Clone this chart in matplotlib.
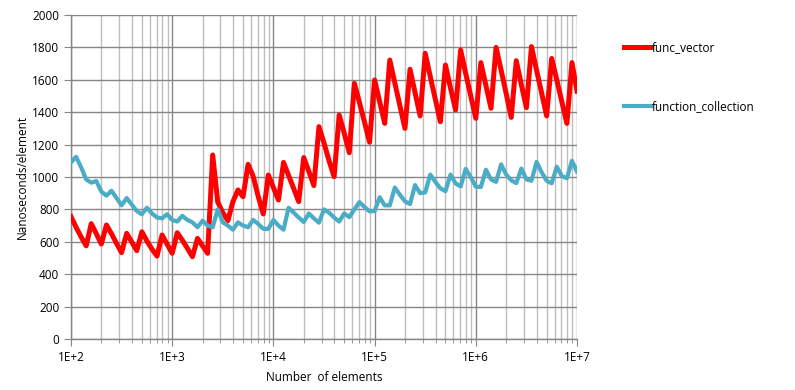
#!/usr/bin/env python3
# -*- coding: utf-8 -*-
import matplotlib
matplotlib.use("Agg")
import matplotlib.pyplot as plt
import matplotlib.ticker as ticker
import numpy as np

# sample sizes: 20 samples per decade from 1E+2 to 1E+7
steps = list(range(101))

# nanoseconds per element
func_vector = [
    755, 690, 630, 575, 712, 650, 586, 704, 650, 590,
    533, 652, 600, 545, 662, 605, 555, 512, 642, 585,
    529, 656, 610, 560, 508, 621, 575, 529, 1136, 845,
    780, 730, 848, 920, 878, 1078, 1005, 880, 772, 1012,
    935, 858, 1090, 1010, 930, 848, 1120, 1035, 947, 1311,
    1210, 1100, 1002, 1383, 1270, 1150, 1578, 1460, 1340, 1215,
    1599, 1465, 1331, 1722, 1580, 1440, 1300, 1665, 1520, 1377,
    1764, 1620, 1480, 1341, 1691, 1550, 1414, 1784, 1640, 1500,
    1362, 1706, 1565, 1424, 1800, 1660, 1515, 1368, 1718, 1570,
    1428, 1805, 1660, 1520, 1377, 1732, 1600, 1465, 1331, 1706,
    1530,
]

function_collection = [
    1090, 1125, 1060, 985, 965, 975, 910, 885, 915, 870,
    825, 870, 830, 790, 770, 810, 775, 750, 745, 770,
    735, 725, 760, 735, 720, 690, 730, 700, 690, 800,
    720, 700, 675, 720, 700, 690, 735, 710, 680, 680,
    735, 700, 675, 810, 780, 750, 722, 775, 745, 718,
    800, 780, 750, 725, 775, 752, 800, 845, 815, 788,
    790, 875, 825, 825, 935, 890, 850, 833, 950, 900,
    905, 1015, 970, 930, 912, 1015, 960, 942, 1050, 1000,
    940, 938, 1045, 985, 970, 1078, 1015, 980, 962, 1052,
    985, 977, 1093, 1030, 977, 961, 1063, 1006, 992, 1100,
    1033,
]

y_ticks = list(range(0, 2001, 200))
x_ticks = [1e2, 1e3, 1e4, 1e5, 1e6, 1e7]
x_tick_labels = ["1E+2", "1E+3", "1E+4", "1E+5", "1E+6", "1E+7"]


def plot_data():
    plt.rcParams["font.family"] = ["Open Sans", "DejaVu Sans"]
    fig = plt.figure(figsize=(7.95, 3.9), dpi=100)
    ax = fig.add_axes([0.0893, 0.1308, 0.6365, 0.8307])

    sizes = 100 * 10 ** (np.array(steps) / 20.0)

    # the two series
    ax.plot(sizes, func_vector, color="#FF0000", lw=3.6,
            solid_joinstyle="round", label="func_vector", zorder=3)
    ax.plot(sizes, function_collection, color="#4BACC6", lw=3.0,
            solid_joinstyle="round", label="function_collection", zorder=3)

    # log axis like Excel
    ax.set_xscale("log")
    ax.set_xlim(1e2, 1e7)
    ax.set_ylim(0, 2000)
    ax.set_xticks(x_ticks)
    ax.set_xticklabels(x_tick_labels)
    ax.xaxis.set_minor_locator(ticker.LogLocator(base=10, subs=np.arange(2, 10)))
    ax.xaxis.set_minor_formatter(ticker.NullFormatter())
    ax.set_yticks(y_ticks)

    # grid lines
    ax.grid(which="major", axis="both", color="#868686", lw=1.0, zorder=0)
    ax.grid(which="minor", axis="x", color="#BEBEBE", lw=1.0, zorder=0)

    for side in ["top", "right"]:
        ax.spines[side].set_visible(False)
    for side in ["left", "bottom"]:
        ax.spines[side].set_color("#868686")
        ax.spines[side].set_linewidth(1.0)

    ax.tick_params(which="major", length=5, color="#868686", labelsize=8.5,
                   labelcolor="black")
    ax.tick_params(which="minor", length=3, color="#868686")

    # labels
    ax.set_ylabel("Nanoseconds/element", fontsize=8.5, labelpad=2)
    ax.set_xlabel("Number  of elements", fontsize=8.5, labelpad=5)

    # legend on the right side
    fig.legend(loc="upper left", bbox_to_anchor=(0.771, 0.923),
               frameon=False, fontsize=8.5, handlelength=2.3,
               handletextpad=0.1, labelspacing=3.9)

    fig.savefig("out.png", dpi=100)


def main():
    plot_data()


if __name__ == "__main__":
    main()
